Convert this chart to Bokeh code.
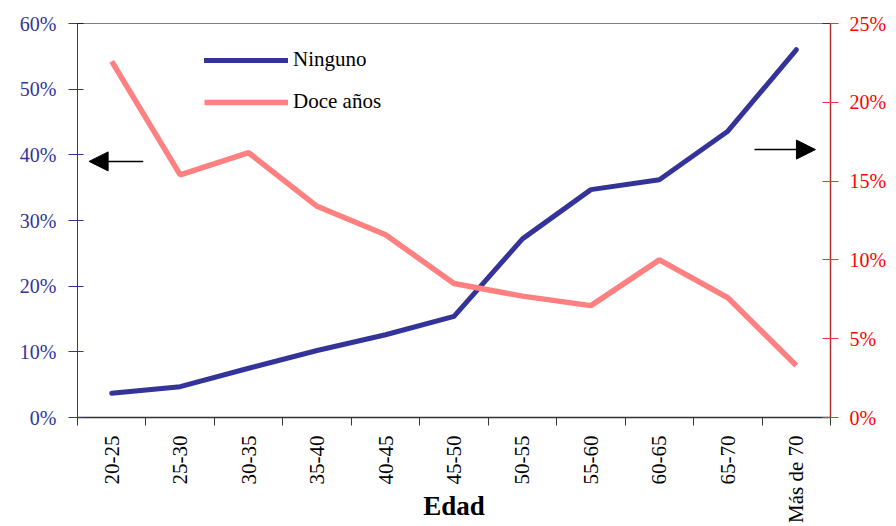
import math
from bokeh.plotting import figure
from bokeh.models import (Range1d, LinearAxis, FixedTicker, PrintfTickFormatter,
                          Legend, LegendItem, Arrow, NormalHead, Span)
from bokeh.embed import file_html
from bokeh.resources import INLINE

categories = ["20-25", "25-30", "30-35", "35-40", "40-45", "45-50",
              "50-55", "55-60", "60-65", "65-70", "Más de 70"]
ninguno = [3.7, 4.7, 7.5, 10.2, 12.6, 15.4, 27.2, 34.7, 36.2, 43.6, 56.0]   # % (left axis)
doce_anos = [22.6, 15.4, 16.8, 13.4, 11.6, 8.5, 7.7, 7.1, 10.0, 7.6, 3.3]  # % (right axis)
left_ticks = [0, 10, 20, 30, 40, 50, 60]
right_ticks = [0, 5, 10, 15, 20, 25]

# arrow annotations (x in category units, y in left-axis %)
left_arrow = dict(x_start=0.96, y_start=39.0, x_end=0.17, y_end=39.0)
right_arrow = dict(x_start=9.89, y_start=40.8, x_end=10.78, y_end=40.8)

n = len(categories)
xpos = [i + 0.5 for i in range(n)]

SERIF = "Liberation Serif"
BLUE = "#333399"
PINK = "#ff8080"

p = figure(width=896, height=526, output_backend="svg", toolbar_location=None,
           x_range=Range1d(0, n), y_range=Range1d(0, 60),
           min_border_left=77, min_border_right=66, min_border_top=23,
           min_border_bottom=109, x_axis_location="below")
p.outline_line_color = None
p.xgrid.visible = False
p.ygrid.visible = False
p.background_fill_color = "white"
p.border_fill_color = "white"

# x axis
xa = p.xaxis[0]
xa.ticker = FixedTicker(ticks=xpos, minor_ticks=list(range(n + 1)))
xa.major_label_overrides = {x: c for x, c in zip(xpos, categories)}
xa.major_label_orientation = math.pi / 2
xa.major_tick_line_color = None
xa.major_tick_in = 0
xa.major_tick_out = 0
xa.major_label_standoff = 10
xa.minor_tick_line_color = "#333333"
xa.minor_tick_in = 0
xa.minor_tick_out = 8
xa.axis_line_color = "#333333"
xa.axis_line_width = 1.5
xa.major_label_text_font = SERIF
xa.major_label_text_font_size = "21px"
xa.major_label_text_color = "black"
xa.axis_label = "Edad"
xa.axis_label_standoff = -35
xa.axis_label_text_font = SERIF
xa.axis_label_text_font_size = "27px"
xa.axis_label_text_font_style = "bold"
xa.axis_label_text_color = "black"

# left y axis
ya = p.yaxis[0]
ya.ticker = FixedTicker(ticks=left_ticks)
ya.formatter = PrintfTickFormatter(format="%d%%")
ya.axis_line_color = BLUE
ya.major_tick_line_color = BLUE
ya.major_tick_in = 6
ya.major_tick_out = 9
ya.minor_tick_line_color = None
ya.major_label_standoff = 12
ya.major_label_text_font = SERIF
ya.major_label_text_font_size = "20px"
ya.major_label_text_color = BLUE

# right y axis
p.extra_y_ranges = {"right": Range1d(0, 25)}
ra = LinearAxis(y_range_name="right", ticker=FixedTicker(ticks=right_ticks),
                formatter=PrintfTickFormatter(format="%d%%"))
ra.axis_line_color = "#b03030"
ra.axis_line_width = 1.5
ra.major_tick_line_color = "#ff3333"
ra.major_tick_in = 8
ra.major_tick_out = 8
ra.minor_tick_line_color = None
ra.major_label_standoff = 11
ra.major_label_text_font = SERIF
ra.major_label_text_font_size = "20px"
ra.major_label_text_color = "#ff0000"
p.add_layout(ra, "right")

# top border
p.add_layout(Span(location=60, dimension="width", line_color="black", line_width=1))

r1 = p.line(xpos, ninguno, line_color=BLUE, line_width=5, line_cap="round", line_join="round")
r2 = p.line(xpos, doce_anos, line_color=PINK, line_width=5.5, y_range_name="right")

legend = Legend(items=[LegendItem(label="Ninguno", renderers=[r1]),
                       LegendItem(label="Doce años", renderers=[r2])],
                location=(127, 303), orientation="vertical",
                glyph_width=84, glyph_height=24, label_height=24, spacing=17,
                label_standoff=5, padding=0, margin=0,
                border_line_color=None, background_fill_alpha=0,
                label_text_font=SERIF, label_text_font_size="21px",
                label_text_color="black")
p.add_layout(legend, "center")

for a in (left_arrow, right_arrow):
    p.add_layout(Arrow(end=NormalHead(size=19, fill_color="black", line_color="black"),
                       line_color="black", line_width=1.5, **a))

open("out.html", "w").write(file_html(p, INLINE))
